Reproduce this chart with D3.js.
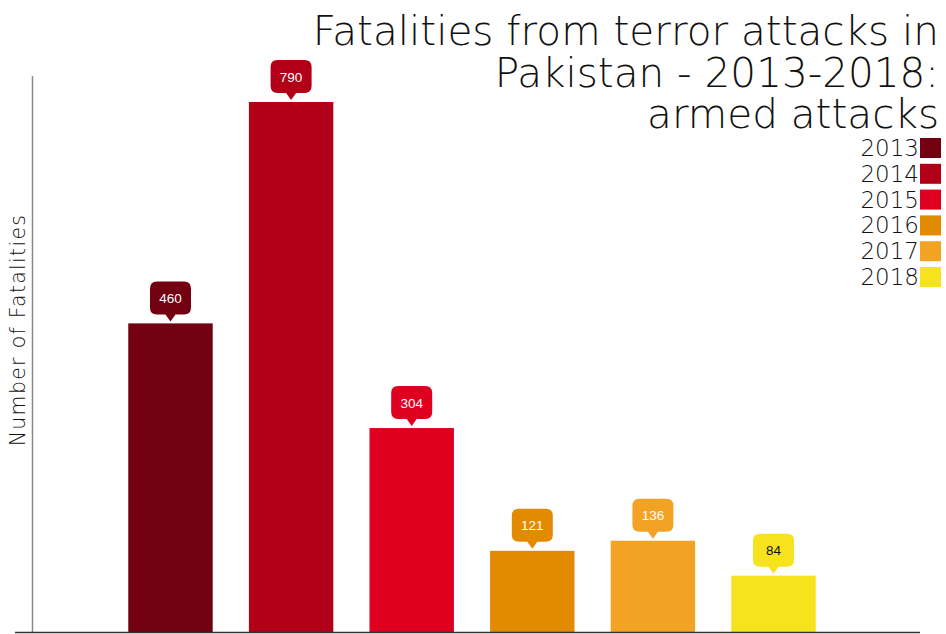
<!DOCTYPE html>
<html><head><meta charset="utf-8">
<script src="https://cdn.jsdelivr.net/npm/d3@7"></script>
<style>body{margin:0;background:#fff;}svg{display:block;}</style>
</head><body>
<svg id="c" width="946" height="634"></svg>
<script>
const years = ["2013","2014","2015","2016","2017","2018"];
const fatalities = [460, 790, 304, 121, 136, 84];
const colors = ["#730010","#b10018","#df0020","#e38b00","#f3a324","#f6e31e"];
const labelTextColors = ["#ffffff","#ffffff","#ffffff","#ffffff","#ffffff","#111111"];
const titleLines = ["Fatalities from terror attacks in","Pakistan - 2013-2018:","armed attacks"];
const yAxisTitle = "Number of Fatalities";

const svg = d3.select("#c");
const font = "'DejaVu Sans', sans-serif";
const baseY = 632;
const x = d3.scaleBand().domain(years).range([33, 911]).paddingInner(0.3).paddingOuter(0.79);
const y = d3.scaleLinear().domain([0, 790]).range([baseY, 102]);

svg.append("line").attr("x1",32.5).attr("x2",32.5).attr("y1",76).attr("y2",baseY)
  .attr("stroke","#8a8a8a").attr("stroke-width",1.5);

svg.selectAll("rect.bar").data(years).join("rect").attr("class","bar")
  .attr("x", d=>x(d)).attr("width", x.bandwidth())
  .attr("y", (d,i)=>y(fatalities[i])).attr("height",(d,i)=>baseY - y(fatalities[i]))
  .attr("fill",(d,i)=>colors[i]);

svg.append("line").attr("x1",15).attr("x2",920).attr("y1",baseY+0.5).attr("y2",baseY+0.5)
  .attr("stroke","#333").attr("stroke-width",1.5);

const bw = 41, bh = 33, ph = 7, r = 7;
const lab = svg.selectAll("g.lab").data(years).join("g").attr("class","lab")
  .attr("transform",(d,i)=>`translate(${x(d)+x.bandwidth()/2},${y(fatalities[i])-2})`);
lab.append("path").attr("fill",(d,i)=>colors[i])
  .attr("d", ()=>{
    const t = -ph, L=-bw/2, R=bw/2, T=t-bh;
    return `M0,0 L-5,${t} L${L+r},${t} Q${L},${t} ${L},${t-r} L${L},${T+r} Q${L},${T} ${L+r},${T} L${R-r},${T} Q${R},${T} ${R},${T+r} L${R},${t-r} Q${R},${t} ${R-r},${t} L5,${t} Z`;
  });
lab.append("text").attr("text-anchor","middle").attr("y",-ph-bh/2+5)
  .attr("font-family","Arial, 'Liberation Sans', sans-serif").attr("font-size",13.5)
  .attr("fill",(d,i)=>labelTextColors[i]).text((d,i)=>fatalities[i]);

const title = svg.append("text").attr("text-anchor","end").attr("font-family",font).attr("font-weight",200)
  .attr("font-size",40.5).attr("fill","#111");
title.selectAll("tspan").data(titleLines).join("tspan")
  .attr("x",939).attr("y",(d,i)=>45+i*41.5).text(d=>d);

const lg = svg.selectAll("g.leg").data(years).join("g").attr("class","leg")
  .attr("transform",(d,i)=>`translate(920,${138+i*25.8})`);
lg.append("rect").attr("width",21).attr("height",20).attr("fill",(d,i)=>colors[i]);
lg.append("text").attr("x",-1).attr("y",18).attr("text-anchor","end")
  .attr("font-family",font).attr("font-weight",200).attr("font-size",23).attr("fill","#111").text(d=>d);

svg.append("text").attr("transform","translate(25,330) rotate(-90)").attr("text-anchor","middle")
  .attr("font-family",font).attr("font-weight",200).attr("font-size",20.5).attr("letter-spacing",1.3)
  .attr("fill","#111").text(yAxisTitle);
</script>
</body></html>
